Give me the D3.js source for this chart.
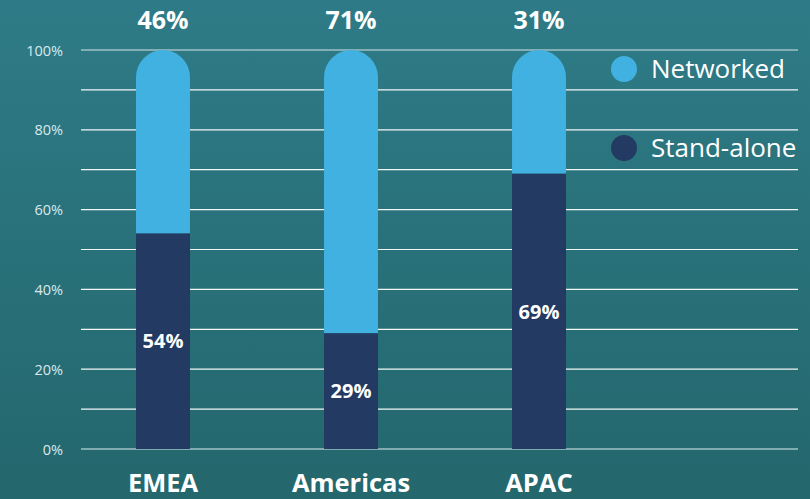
<!DOCTYPE html>
<html><head><meta charset="utf-8">
<script src="https://cdn.jsdelivr.net/npm/d3@7"></script>
<style>html,body{margin:0;padding:0;overflow:hidden;}svg{display:block;font-family:"Open Sans",sans-serif;}</style>
</head><body>
<svg id="c" width="810" height="499"></svg>
<script>
const categories = ["EMEA", "Americas", "APAC"];
const standAlone = [54, 29, 69];
const networked = [46, 71, 31];
const seriesNames = ["Networked", "Stand-alone"];
const yTicks = [0, 20, 40, 60, 80, 100];
const colors = {"Networked": "#41b1e2", "Stand-alone": "#233a62"};

const svg = d3.select("#c");
const W = 810, H = 499;
const defs = svg.append("defs");
const grad = defs.append("linearGradient").attr("id","bg").attr("x1",0).attr("y1",0).attr("x2",0).attr("y2",1);
grad.append("stop").attr("offset","0%").attr("stop-color","#2e7b87");
grad.append("stop").attr("offset","100%").attr("stop-color","#24676d");
svg.append("rect").attr("width",W).attr("height",H).attr("fill","url(#bg)");

const y = d3.scaleLinear().domain([0,100]).range([449,50]);
const x = d3.scaleBand().domain(categories).range([69,633]).paddingInner(0.713).paddingOuter(0.3565);
const gridX0 = 81, gridX1 = 798;

const gridVals = d3.range(0,101,10);
svg.append("g").selectAll("line").data(gridVals).join("line")
  .attr("x1",gridX0).attr("x2",gridX1)
  .attr("y1",d=>y(d)).attr("y2",d=>y(d))
  .attr("stroke",d=>(d===0||d===100)?"#9fc2c6":"#ffffff")
  .attr("stroke-width",d=>(d===0||d===100)?1.6:1.2)
  .attr("opacity",d=>(d===0||d===100)?1:0.95);

const yAxis = d3.axisLeft(y).tickValues(yTicks).tickFormat(d=>d+"%").tickSize(0).tickPadding(0);
const ga = svg.append("g").attr("transform",`translate(63,0)`).call(yAxis);
ga.select(".domain").remove();
ga.selectAll("text").attr("fill","#d9e9eb").attr("font-size",14.5).attr("font-family","'Open Sans',sans-serif").attr("dy","0.35em");

const bw = x.bandwidth(), r = bw/2;
const g = svg.append("g");
categories.forEach((c,i)=>{
  const x0 = x(c), top = y(standAlone[i]+networked[i]), mid = y(standAlone[i]);
  const p = d3.path();
  p.moveTo(x0, mid);
  p.lineTo(x0, top + r);
  p.arc(x0 + r, top + r, r, Math.PI, 0);
  p.lineTo(x0 + bw, mid);
  p.closePath();
  g.append("path").attr("d",p.toString()).attr("fill",colors["Networked"]);
  g.append("rect").attr("x",x0).attr("y",mid).attr("width",bw).attr("height",y(0)-mid).attr("fill",colors["Stand-alone"]);
  g.append("text").attr("x",x0+bw/2).attr("y",(mid+y(0))/2).attr("dy","0.36em")
    .attr("text-anchor","middle").attr("fill","#fff").attr("font-weight",700).attr("font-size",20)
    .text(standAlone[i]+"%");
  g.append("text").attr("x",x0+bw/2).attr("y",29)
    .attr("text-anchor","middle").attr("fill","#fff").attr("font-weight",700).attr("font-size",25)
    .text(networked[i]+"%");
  g.append("text").attr("x",x0+bw/2).attr("y",492)
    .attr("text-anchor","middle").attr("fill","#fff").attr("font-weight",700).attr("font-size",25.5)
    .text(c);
});

const leg = svg.append("g");
const legY = [69, 148];
seriesNames.forEach((s,i)=>{
  leg.append("circle").attr("cx",624).attr("cy",legY[i]).attr("r",13).attr("fill",colors[s]);
  leg.append("text").attr("x",651).attr("y",legY[i]).attr("dy","0.35em").attr("fill","#fff").attr("font-size",26).text(s);
});
</script>
</body></html>
